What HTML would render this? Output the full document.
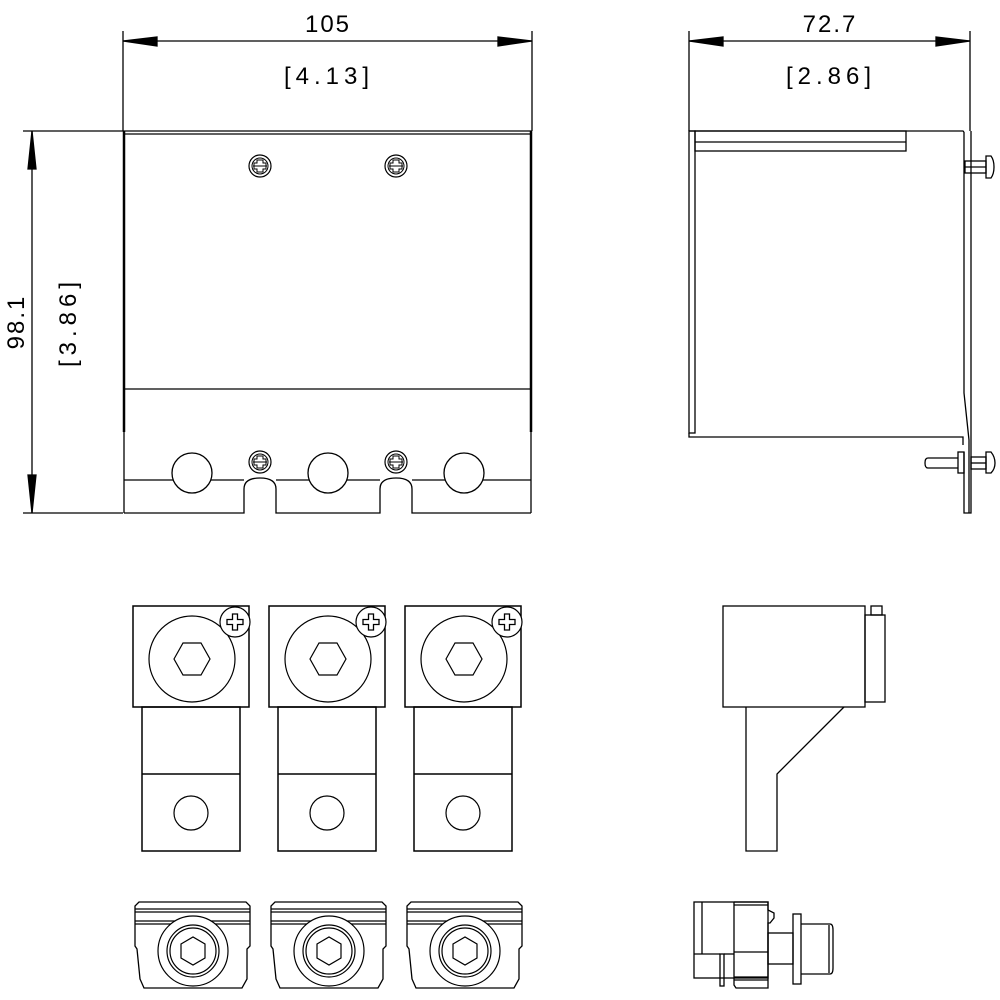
<!DOCTYPE html>
<html><head><style>html,body{margin:0;padding:0;background:#fff}svg{display:block}</style></head>
<body>
<svg width="1000" height="1000" viewBox="0 0 1000 1000" xmlns="http://www.w3.org/2000/svg" font-family="Liberation Sans, sans-serif">
<defs>
<g id="ps">
<circle r="11" fill="none" stroke="#000" stroke-width="1.2"/>
<circle r="8" fill="none" stroke="#000" stroke-width="1"/>
<path d="M-3,-6 h6 v3 h3 v6 h-3 v3 h-6 v-3 h-3 v-6 h3z" fill="none" stroke="#000" stroke-width="1"/>
<line x1="-7" y1="0" x2="7" y2="0" stroke="#000"/>
</g>
<g id="term">
<rect x="0" y="0" width="116" height="101" fill="none" stroke="#000" stroke-width="1.5"/>
<circle cx="59" cy="53" r="43" fill="none" stroke="#000" stroke-width="1.2"/>
<polygon points="41,53 50,37 68,37 77,53 68,69 50,69" fill="none" stroke="#000" stroke-width="1.2"/>
<circle cx="102" cy="16" r="15" fill="#fff" stroke="#000" stroke-width="1.2"/>
<path d="M99.5,8 h5 v5.5 h5.5 v5 h-5.5 v5.5 h-5 v-5.5 h-5.5 v-5 h5.5z" fill="none" stroke="#000" stroke-width="1.3"/>
<rect x="9" y="101" width="98" height="144" fill="none" stroke="#000" stroke-width="1.5"/>
<line x1="9" y1="168" x2="107" y2="168" stroke="#000" stroke-width="1.5"/>
<circle cx="58" cy="207" r="17" fill="none" stroke="#000" stroke-width="1.2"/>
</g>
<g id="nut">
<path d="M3,0 L110,0 L114,4 L114,44 L111,47 L111,77 L106,86 L8,86 L4,77 L1,47 L-1,44 L-1,4z" fill="none" stroke="#000" stroke-width="1.3"/>
<line x1="-1" y1="7" x2="114" y2="7" stroke="#000" stroke-width="1.2"/>
<line x1="-1" y1="10" x2="114" y2="10" stroke="#000" stroke-width="1.2"/>
<line x1="-1" y1="19" x2="114" y2="19" stroke="#000" stroke-width="1.2"/>
<line x1="-1" y1="22" x2="114" y2="22" stroke="#000" stroke-width="1.2"/>
<circle cx="57" cy="49" r="35" fill="#fff" stroke="#000" stroke-width="1.2"/>
<circle cx="57" cy="49" r="26" fill="none" stroke="#000" stroke-width="1.2"/>
<circle cx="57" cy="49" r="23" fill="none" stroke="#000" stroke-width="1.2"/>
<polygon points="45,42 57,35 69,42 69,56 57,63 45,56" fill="none" stroke="#000" stroke-width="1.2"/>
</g>
</defs>
<g stroke="#000" fill="none" stroke-width="1.3">
<line x1="123" y1="31" x2="123" y2="131"/>
<line x1="532" y1="31" x2="532" y2="131"/>
<line x1="123" y1="41" x2="532" y2="41"/>
<polygon points="123,41 157,37 157,46" fill="#000"/>
<polygon points="532,41 498,37 498,46" fill="#000"/>
<line x1="23" y1="131" x2="123" y2="131"/>
<line x1="23" y1="513" x2="123" y2="513"/>
<line x1="32" y1="131" x2="32" y2="513"/>
<polygon points="32,131 28,169 36,169" fill="#000"/>
<polygon points="32,513 28,475 36,475" fill="#000"/>
<line x1="123" y1="131" x2="532" y2="131"/>
<line x1="123" y1="134" x2="532" y2="134"/>
<line x1="124" y1="131" x2="124" y2="432" stroke-width="2.5"/>
<line x1="531" y1="131" x2="531" y2="432" stroke-width="2.5"/>
<line x1="124" y1="389" x2="531" y2="389"/>
<line x1="124" y1="389" x2="124" y2="513"/>
<line x1="531" y1="389" x2="531" y2="513"/>
<path d="M124,480 H244 M276,480 H380 M412,480 H531"/>
<path d="M124,513 H244 V489 Q244,478 260,478 Q276,478 276,489 V513 H380 V489 Q380,478 396,478 Q412,478 412,489 V513 H531"/>
<circle cx="192" cy="473" r="20" fill="#fff"/>
<circle cx="328" cy="473" r="20" fill="#fff"/>
<circle cx="464" cy="473" r="20" fill="#fff"/>
</g>
<use href="#ps" x="260" y="166"/><use href="#ps" x="396" y="166"/>
<use href="#ps" x="260" y="462"/><use href="#ps" x="396" y="462"/>
<g font-size="24" fill="#000" text-anchor="middle" letter-spacing="2">
<text x="328" y="32">105</text>
<text x="329" y="84" letter-spacing="5">[4.13]</text>
<text x="830" y="32">72.7</text>
<text x="831" y="84" letter-spacing="5">[2.86]</text>
<text transform="translate(24,322) rotate(-90)">98.1</text>
<text transform="translate(76,322) rotate(-90)" letter-spacing="5">[3.86]</text>
</g>
<g stroke="#000" fill="none" stroke-width="1.3">
<line x1="689" y1="31" x2="689" y2="131"/>
<line x1="970" y1="31" x2="970" y2="131"/>
<line x1="689" y1="41" x2="970" y2="41"/>
<polygon points="689,41 723,37 723,46" fill="#000"/>
<polygon points="970,41 936,37 936,46" fill="#000"/>
<path d="M689,131 H963 L964,132"/>
<rect x="689" y="131" width="6" height="302"/>
<path d="M689,433 V437 H963 V445"/>
<rect x="695" y="131" width="211" height="20"/>
<line x1="695" y1="142" x2="906" y2="142"/>
<path d="M964,132 V393 L969,440 V513"/>
<path d="M971,131 V513 H964 V452"/>
<rect x="965" y="161" width="21" height="12"/>
<line x1="965" y1="167" x2="986" y2="167"/>
<path d="M986,156 H991 Q994,160 994,167 Q994,174 991,178 H986Z"/>
<path d="M958,458 H928 Q925,458 925,463 Q925,468 928,468 H958"/>
<rect x="958" y="452" width="6" height="21"/>
<rect x="971" y="457" width="15" height="12"/>
<line x1="971" y1="463" x2="986" y2="463"/>
<path d="M986,452 H991 Q995,457 995,463 Q995,469 991,473 H986Z"/>
<rect x="723" y="606" width="142" height="101"/>
<rect x="865" y="615" width="20" height="87"/>
<rect x="871" y="606" width="11" height="9"/>
<path d="M746,707 V851 H777 V774 L844,707"/>
<rect x="694" y="902" width="74" height="76"/>
<line x1="702" y1="902" x2="702" y2="954"/>
<line x1="694" y1="954" x2="720" y2="954"/>
<line x1="724" y1="954" x2="734" y2="954"/>
<rect x="720" y="954" width="4" height="32"/>
<path d="M734,902 H768 V910 L774,913 V918 L770,923 H768 V988 H736 L734,985 V902"/>
<line x1="734" y1="905" x2="768" y2="905"/>
<line x1="734" y1="952" x2="768" y2="952"/>
<line x1="734" y1="977" x2="768" y2="977"/>
<line x1="734" y1="980" x2="768" y2="980"/>
<rect x="768" y="933" width="25" height="31"/>
<rect x="793" y="914" width="8" height="70"/>
<path d="M801,924 H830 Q833,924 833,930 V968 Q833,974 830,974 H801"/>
<line x1="829" y1="925" x2="829" y2="973"/>
</g>
<use href="#term" x="133" y="606"/>
<use href="#term" x="269" y="606"/>
<use href="#term" x="405" y="606"/>
<use href="#nut" x="136" y="902"/>
<use href="#nut" x="272" y="902"/>
<use href="#nut" x="408" y="902"/>
</svg>
</body></html>
